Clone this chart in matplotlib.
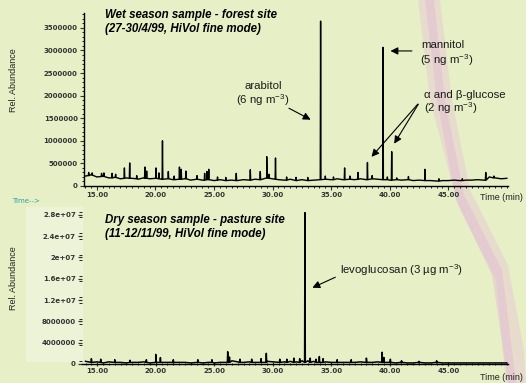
import matplotlib
matplotlib.use("Agg")
import matplotlib.pyplot as plt
from matplotlib.patches import Polygon, Rectangle
from matplotlib.ticker import FixedLocator, MultipleLocator, FormatStrFormatter

plt.rcParams['font.family'] = ['Liberation Sans', 'DejaVu Sans']
plt.rcParams['mathtext.fontset'] = 'custom'
plt.rcParams['mathtext.rm'] = 'Liberation Sans'
plt.rcParams['mathtext.it'] = 'Liberation Sans:italic'

# ---- wet season, forest site (abundance units of 1e5) ----
wet_base_t = [14.0, 14.5, 15.0, 15.5, 16.0, 16.5, 17.0, 17.5, 18.0, 18.5, 19.0, 19.5,
              20.0, 20.5, 21.0, 21.5, 22.0, 22.5, 23.0, 23.5, 24.0, 24.5, 25.0, 25.5,
              26.0, 26.5, 27.0, 27.5, 28.0, 28.5, 29.0, 29.5, 30.0, 30.5, 31.0, 31.5,
              32.0, 32.5, 33.0, 33.5, 34.0, 34.5, 35.0, 35.5, 36.0, 36.5, 37.0, 37.5,
              38.0, 38.5, 39.0, 39.5, 40.0, 40.5, 41.0, 41.5, 42.0, 42.5, 43.0, 43.5,
              44.0, 44.5, 45.0, 45.5, 46.0, 46.5, 47.0, 47.5, 48.0, 48.5, 49.0, 49.5, 50.0]
wet_base_y = [2.2, 2.5, 2.0, 2.2, 1.8, 1.9, 1.6, 1.8, 1.7, 1.5, 1.8, 1.6,
              1.7, 1.5, 1.6, 1.4, 1.5, 1.6, 1.3, 1.5, 1.3, 1.4, 1.2, 1.4,
              1.2, 1.3, 1.2, 1.4, 1.3, 1.5, 1.4, 1.8, 1.6, 1.4, 1.3, 1.5,
              1.2, 1.4, 1.2, 1.3, 1.4, 1.5, 1.4, 1.6, 1.4, 1.5, 1.4, 1.6,
              1.4, 1.6, 1.5, 1.4, 1.3, 1.4, 1.3, 1.4, 1.2, 1.3, 1.2, 1.2,
              1.1, 1.2, 1.2, 1.3, 1.2, 1.3, 1.3, 1.4, 1.3, 2.0, 1.8, 1.6, 1.7]
wet_peak_t = [14.3, 14.6, 15.4, 15.6, 16.3, 16.6, 17.35, 17.8, 18.4, 19.1, 19.25,
              20.05, 20.3, 20.6, 21.1, 21.6, 22.05, 22.2, 22.6, 23.55, 24.2, 24.4,
              24.55, 25.3, 26.0, 26.9, 28.1, 28.95, 29.5, 29.7, 30.25, 31.2, 32.0,
              33.0, 34.1, 34.5, 35.2, 36.15, 36.6, 37.3, 38.1, 38.5, 39.43, 39.8,
              40.17, 40.6, 41.6, 43.0, 44.2, 46.2, 48.2, 48.9]
wet_peak_y = [3.0, 2.9, 2.8, 2.9, 2.8, 2.6, 4.0, 5.1, 2.3, 4.2, 3.3,
              4.0, 2.9, 10.0, 3.2, 2.2, 4.2, 3.7, 3.3, 2.3, 2.8, 3.2,
              3.7, 2.0, 1.9, 2.8, 3.6, 3.2, 6.5, 2.6, 6.2, 2.0, 1.9,
              1.9, 36.5, 2.2, 2.0, 4.0, 2.2, 3.0, 5.2, 2.3, 30.7, 2.0,
              7.6, 1.8, 2.1, 3.7, 1.6, 1.6, 3.0, 2.2]
wet_peak_b = [2.3, 2.4, 2.1, 2.1, 1.8, 1.9, 1.7, 1.7, 1.6, 1.7, 1.7,
              1.7, 1.6, 1.5, 1.6, 1.4, 1.5, 1.5, 1.6, 1.5, 1.3, 1.4,
              1.4, 1.3, 1.2, 1.2, 1.3, 1.4, 1.8, 1.7, 1.5, 1.3, 1.2,
              1.2, 1.4, 1.5, 1.4, 1.4, 1.5, 1.5, 1.4, 1.6, 1.4, 1.4,
              1.3, 1.4, 1.4, 1.2, 1.1, 1.2, 1.3, 1.8]

# ---- dry season, pasture site (abundance units of 1e6) ----
dry_base_t = [14.0, 14.5, 15.0, 15.5, 16.0, 16.5, 17.0, 17.5, 18.0, 18.5, 19.0, 19.5,
              20.0, 20.5, 21.0, 21.5, 22.0, 22.5, 23.0, 23.5, 24.0, 24.5, 25.0, 25.5,
              26.0, 26.5, 27.0, 27.5, 28.0, 28.5, 29.0, 29.5, 30.0, 30.5, 31.0, 31.5,
              32.0, 32.5, 33.0, 33.5, 34.0, 34.5, 35.0, 35.5, 36.0, 36.5, 37.0, 37.5,
              38.0, 38.5, 39.0, 39.5, 40.0, 40.5, 41.0, 41.5, 42.0, 42.5, 43.0, 43.5,
              44.0, 44.5, 45.0, 45.5, 46.0, 46.5, 47.0, 47.5, 48.0, 48.5, 49.0, 49.5, 50.0]
dry_base_y = [0.5, 0.3, 0.4, 0.2, 0.4, 0.3, 0.3, 0.2, 0.3, 0.3, 0.4, 0.2,
              0.4, 0.3, 0.3, 0.2, 0.3, 0.3, 0.2, 0.3, 0.2, 0.3, 0.2, 0.3,
              0.3, 0.6, 0.4, 0.3, 0.4, 0.3, 0.4, 0.5, 0.4, 0.3, 0.4, 0.5,
              0.4, 0.6, 0.6, 0.5, 0.6, 0.4, 0.3, 0.3, 0.3, 0.3, 0.3, 0.4,
              0.4, 0.3, 0.4, 0.5, 0.3, 0.2, 0.2, 0.2, 0.2, 0.2, 0.2, 0.2,
              0.2, 0.2, 0.2, 0.2, 0.2, 0.2, 0.2, 0.2, 0.2, 0.2, 0.2, 0.2, 0.2]
dry_peak_t = [14.5, 15.3, 16.5, 17.8, 19.2, 20.0, 20.4, 21.5, 23.6, 24.8, 26.15,
              26.3, 27.2, 28.2, 29.0, 29.45, 30.6, 31.2, 31.8, 32.3, 32.75, 33.2,
              33.7, 33.98, 34.3, 35.5, 36.7, 38.0, 39.35, 39.5, 40.05, 41.0, 42.5, 44.0]
dry_peak_y = [1.0, 0.9, 0.8, 0.7, 0.8, 1.8, 1.2, 0.8, 0.8, 0.8, 2.3,
              1.3, 0.9, 0.9, 1.0, 2.0, 0.9, 0.9, 1.1, 1.0, 28.4, 1.1,
              0.9, 1.4, 1.0, 0.8, 0.8, 1.1, 2.2, 1.2, 0.9, 0.6, 0.5, 0.6]
dry_peak_b = [0.3] * len(dry_peak_t)

x_ticks = [15, 20, 25, 30, 35, 40, 45]
wet_yticks = [0, 500000, 1000000, 1500000, 2000000, 2500000, 3000000, 3500000]
dry_yticks = [0, 4000000, 8000000, 12000000, 16000000, 20000000, 24000000, 28000000]
dry_ylabels = ['0', '4000000', '8000000', '1.2e+07', '1.6e+07', '2e+07', '2.4e+07', '2.8e+07']

W, H = 526, 383


def px(x, y):
    return x / W, 1 - y / H


def trace(base_t, base_y, pk_t, pk_y, pk_b, scale, w):
    pts = list(zip(base_t, base_y))
    for t, h, b in zip(pk_t, pk_y, pk_b):
        pts += [(t - w, b), (t, h), (t + w, b)]
    pts.sort()
    return [p[0] for p in pts], [p[1] * scale for p in pts]


fig = plt.figure(figsize=(W / 100, H / 100), dpi=100)
fig.patch.set_facecolor('#e6efc6')

# faint pink streak across the right part of the slide
streak = [px(418, 0), px(440, 0), px(452, 100), px(470, 190), px(508, 265), px(524, 350),
          px(526, 383), px(506, 383), px(496, 280), px(458, 205), px(430, 100)]
fig.patches.append(Polygon(streak, closed=True, transform=fig.transFigure,
                           facecolor='#e6b8da', edgecolor='none', alpha=0.35, zorder=-2))
core = [px(425, 0), px(434, 0), px(445, 100), px(464, 195), px(502, 270), px(516, 383),
        px(508, 383), px(492, 275), px(456, 200), px(437, 100)]
fig.patches.append(Polygon(core, closed=True, transform=fig.transFigure,
                           facecolor='#e2a6d8', edgecolor='none', alpha=0.3, zorder=-2))
fig.patches.append(Rectangle(px(26, 362), 57 / W, 155 / H, transform=fig.transFigure,
                             facecolor='#eff5dc', edgecolor='none', alpha=0.8, zorder=-2))

tick_font = dict(family='DejaVu Sans', size=5, weight='bold')

# ---------- top panel ----------
ax1 = fig.add_axes([84 / W, 1 - 186 / H, 424 / W, 173 / H])
ax1.patch.set_alpha(0)
tx, ty = trace(wet_base_t, wet_base_y, wet_peak_t, wet_peak_y, wet_peak_b, 1e5, 0.03)
ax1.plot(tx, ty, color='black', lw=1.0)
ax1.set_xlim(13.9, 50.1)
ax1.set_ylim(0, 3.83e6)
ax1.set_yticks(wet_yticks)
ax1.set_yticklabels([str(v) for v in wet_yticks], **tick_font)
ax1.yaxis.set_minor_locator(MultipleLocator(100000))
ax1.set_xticks(x_ticks)
ax1.xaxis.set_major_formatter(FormatStrFormatter('%.2f'))
ax1.xaxis.set_minor_locator(MultipleLocator(0.5))
for lab in ax1.get_xticklabels():
    lab.set_fontfamily('DejaVu Sans')
    lab.set_fontsize(5)
    lab.set_fontweight('bold')
for s in ['top', 'right']:
    ax1.spines[s].set_visible(False)
for s in ['left', 'bottom']:
    ax1.spines[s].set_linewidth(1.0)
ax1.tick_params(axis='both', which='major', length=3, width=0.8, pad=1.5, colors='#333333')
ax1.tick_params(axis='both', which='minor', length=1.5, width=0.6)

arrow = dict(arrowstyle='-|>', color='black', lw=0.8, mutation_scale=11)
ax1.annotate('', xy=(33.46, 1.44e6), xytext=(31.19, 1.75e6), arrowprops=arrow)
ax1.annotate('', xy=(39.83, 2.99e6), xytext=(42.13, 2.99e6), arrowprops=arrow)
ax1.annotate('', xy=(38.29, 6.0e5), xytext=(42.56, 1.86e6), arrowprops=arrow)
ax1.annotate('', xy=(40.26, 8.85e5), xytext=(42.56, 1.86e6), arrowprops=arrow)

# ---------- bottom panel ----------
ax2 = fig.add_axes([82 / W, 1 - 364 / H, 426 / W, 154 / H])
ax2.patch.set_alpha(0)
bx, by = trace(dry_base_t, dry_base_y, dry_peak_t, dry_peak_y, dry_peak_b, 1e6, 0.03)
ax2.plot(bx, by, color='black', lw=1.1)
ax2.set_xlim(13.7, 50.1)
ax2.set_ylim(0, 2.89e7)
ax2.set_yticks(dry_yticks)
ax2.set_yticklabels(dry_ylabels, **tick_font)
minor_y = [v + d for v in dry_yticks for d in (-5e5, 5e5) if v + d > 0]
ax2.yaxis.set_minor_locator(FixedLocator(minor_y))
ax2.set_xticks(x_ticks)
ax2.xaxis.set_major_formatter(FormatStrFormatter('%.2f'))
ax2.xaxis.set_minor_locator(MultipleLocator(0.5))
for lab in ax2.get_xticklabels():
    lab.set_fontfamily('DejaVu Sans')
    lab.set_fontsize(5)
    lab.set_fontweight('bold')
for s in ['top', 'right', 'left']:
    ax2.spines[s].set_visible(False)
ax2.spines['bottom'].set_linewidth(1.0)
ax2.tick_params(axis='both', which='major', length=3, width=0.9, pad=1.5, colors='#333333')
ax2.tick_params(axis='x', which='both', direction='inout')
ax2.tick_params(axis='both', which='minor', length=2, width=0.6)

ax2.annotate('', xy=(33.17, 1.41e7), xytext=(35.56, 1.65e7), arrowprops=arrow)

# ---------- texts ----------
title_kw = dict(fontsize=8.3, fontweight='bold', fontstyle='italic', ha='left', va='center')
fig.text(*px(105, 15), 'Wet season sample - forest site', **title_kw)
fig.text(*px(105, 29), '(27-30/4/99, HiVol fine mode)', **title_kw)
fig.text(*px(105, 220), 'Dry season sample - pasture site', **title_kw)
fig.text(*px(105, 234), '(11-12/11/99, HiVol fine mode)', **title_kw)

ann_kw = dict(fontsize=8.2, color='#1a1a1a', va='center')
fig.text(*px(263, 86), 'arabitol', ha='center', **ann_kw)
fig.text(*px(263, 100), '(6 ng m$^{-3}$)', ha='center', **ann_kw)
fig.text(*px(421, 45), 'mannitol', ha='left', **ann_kw)
fig.text(*px(420, 60), '(5 ng m$^{-3}$)', ha='left', **ann_kw)
fig.text(*px(424, 95), '\u03b1 and \u03b2-glucose', ha='left', **ann_kw)
fig.text(*px(424, 108), '(2 ng m$^{-3}$)', ha='left', **ann_kw)
fig.text(*px(340, 270), 'levoglucosan (3 \u00b5g m$^{-3}$)', ha='left', **ann_kw)

fig.text(*px(523, 198), 'Time (min)', fontsize=6.5, ha='right', va='center', color='#222222')
fig.text(*px(523, 377), 'Time (min)', fontsize=6.5, ha='right', va='center', color='#222222')
fig.text(*px(12, 201), 'Time-->', fontsize=5, family='DejaVu Sans', color='#2aa5a0',
         ha='left', va='center')
fig.text(*px(14, 80), 'Rel. Abundance', fontsize=6.5, rotation=90, ha='center', va='center',
         color='#222222')
fig.text(*px(14, 278), 'Rel. Abundance', fontsize=6.5, rotation=90, ha='center', va='center',
         color='#222222')

fig.savefig('out.png', dpi=100, facecolor=fig.get_facecolor())
